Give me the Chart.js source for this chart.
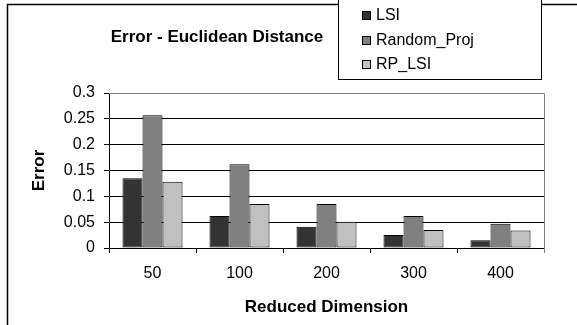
<!DOCTYPE html>
<html>
<head>
<meta charset="utf-8">
<script src="https://cdn.jsdelivr.net/npm/chart.js@4/dist/chart.umd.min.js"></script>
<style>
html,body{margin:0;padding:0;background:#fff;}
#wrap{width:577px;height:325px;position:relative;}
</style>
</head>
<body>
<div id="wrap"><canvas id="c" width="577" height="325"></canvas></div>
<script>
const categories = ["50", "100", "200", "300", "400"];
const seriesNames = ["LSI", "Random_Proj", "RP_LSI"];
const lsiValues = [0.135, 0.062, 0.041, 0.025, 0.015];
const randomProjValues = [0.257, 0.162, 0.085, 0.062, 0.047];
const rpLsiValues = [0.128, 0.085, 0.051, 0.035, 0.034];
const yTicks = [0, 0.05, 0.1, 0.15, 0.2, 0.25, 0.3];
const yTickLabels = ["0", "0.05", "0.1", "0.15", "0.2", "0.25", "0.3"];
const chartTitle = "Error - Euclidean Distance";
const xTitle = "Reduced Dimension";
const yTitle = "Error";
const seriesColors = ["#333333", "#808080", "#c0c0c0"];

const FONT = "'Liberation Sans', Arial, sans-serif";

const decorPlugin = {
  id: 'decor',
  beforeDraw(chart) {
    const ctx = chart.ctx;
    ctx.save();
    ctx.fillStyle = '#fff';
    ctx.fillRect(0, 0, chart.width, chart.height);
    ctx.restore();
  },
  afterDraw(chart) {
    const ctx = chart.ctx;
    const a = chart.chartArea;
    ctx.save();
    // outer frame
    ctx.strokeStyle = '#000';
    ctx.lineWidth = 1.5;
    ctx.beginPath();
    ctx.moveTo(7.5, chart.height + 2);
    ctx.lineTo(7.5, 4.5);
    ctx.lineTo(chart.width + 2, 4.5);
    ctx.stroke();
    // plot area top/right border (gray)
    ctx.strokeStyle = '#808080';
    ctx.lineWidth = 1;
    ctx.beginPath();
    ctx.moveTo(a.left, Math.round(a.top) + 0.5);
    ctx.lineTo(Math.round(a.right) + 0.5, Math.round(a.top) + 0.5);
    ctx.lineTo(Math.round(a.right) + 0.5, a.bottom + 5);
    ctx.stroke();
    // title
    ctx.fillStyle = '#000';
    ctx.font = "bold 17px " + FONT;
    ctx.textAlign = 'center';
    ctx.textBaseline = 'middle';
    ctx.fillText(chartTitle, 217, 37);
    // legend box
    ctx.fillStyle = '#fff';
    ctx.fillRect(338.5, -5, 203, 84.5);
    ctx.strokeStyle = '#000';
    ctx.lineWidth = 1;
    ctx.strokeRect(338.5, -5, 203, 84.5);
    ctx.font = "16px " + FONT;
    ctx.textAlign = 'left';
    chart.data.datasets.forEach((ds, i) => {
      const y = 15 + i * 24.5;
      ctx.fillStyle = ds.backgroundColor;
      ctx.fillRect(362.5, Math.round(y - 4) + 0.5, 8, 8);
      ctx.strokeStyle = '#000';
      ctx.strokeRect(362.5, Math.round(y - 4) + 0.5, 8, 8);
      ctx.fillStyle = '#000';
      ctx.fillText(ds.label, 376, y + 1);
    });
    ctx.restore();
  }
};

new Chart(document.getElementById('c'), {
  type: 'bar',
  data: {
    labels: categories,
    datasets: [
      { label: seriesNames[0], data: lsiValues, backgroundColor: seriesColors[0] },
      { label: seriesNames[1], data: randomProjValues, backgroundColor: seriesColors[1] },
      { label: seriesNames[2], data: rpLsiValues, backgroundColor: seriesColors[2] }
    ].map(d => Object.assign(d, { borderColor: '#000', borderWidth: 1, borderSkipped: false, categoryPercentage: 0.69, barPercentage: 1 }))
  },
  options: {
    responsive: false,
    animation: false,
    devicePixelRatio: 1,
    layout: { padding: { top: 93, right: 33, left: 0, bottom: 0 } },
    plugins: { legend: { display: false }, title: { display: false }, tooltip: { enabled: false } },
    scales: {
      x: {
        afterFit(s) { s.height = 77; },
        grid: { display: true, drawOnChartArea: false, drawTicks: true, tickLength: 5, tickColor: '#000', offset: true },
        border: { color: '#000', width: 1 },
        ticks: { color: '#000', font: { family: FONT, size: 16 }, padding: 11 },
        title: { display: true, text: xTitle, color: '#000', font: { family: FONT, size: 17, weight: 'bold' }, padding: { bottom: 7, top: 0 } }
      },
      y: {
        min: 0, max: 0.3,
        afterFit(s) { s.width = 109; },
        afterBuildTicks(s) { s.ticks = yTicks.map(v => ({ value: v })); },
        grid: { color: '#000', tickColor: '#000', tickLength: 5 },
        border: { color: '#000', width: 1 },
        ticks: {
          color: '#000', font: { family: FONT, size: 16 }, padding: 9,
          callback(value, index) { return yTickLabels[index]; }
        },
        title: { display: true, text: yTitle, color: '#000', font: { family: FONT, size: 17, weight: 'bold' }, padding: { top: 29, bottom: 0 } }
      }
    }
  },
  plugins: [decorPlugin]
});
</script>
</body>
</html>
